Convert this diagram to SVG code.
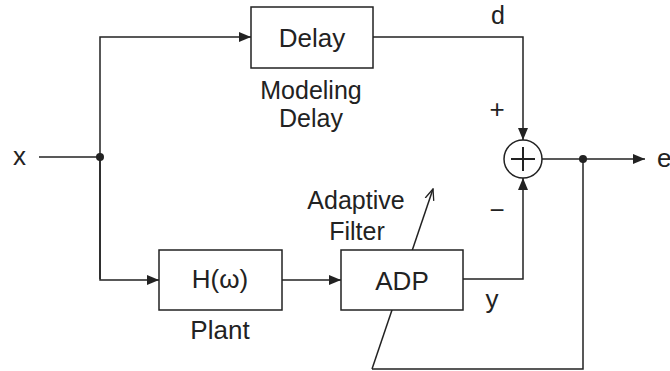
<svg xmlns="http://www.w3.org/2000/svg" width="670" height="371" viewBox="0 0 670 371">
<style>
.ln{fill:none;stroke:#222;stroke-width:1.5}
.bx{fill:#fff;stroke:#222;stroke-width:1.5}
text{font-family:"Liberation Sans",Arial,sans-serif;font-size:26px;fill:#222}
.m{text-anchor:middle}
.s{font-size:25px}
</style>
<defs>
<marker id="ah" markerWidth="12" markerHeight="10" refX="12" refY="5" orient="auto" markerUnits="userSpaceOnUse">
<path d="M0,0 L12,5 L0,10 Z" fill="#222"/>
</marker>
<marker id="oa" markerWidth="12" markerHeight="12" refX="11" refY="6" orient="auto" markerUnits="userSpaceOnUse">
<path d="M0,1.5 L11,6 L0,10.5" fill="none" stroke="#222" stroke-width="1.3"/>
</marker>
</defs>
<g id="connectors">
<path class="ln" d="M39,157 H100"/>
<path class="ln" d="M100,279 V37 H251" marker-end="url(#ah)"/>
<path class="ln" d="M100,157 V280 H159" marker-end="url(#ah)"/>
<path class="ln" d="M282,280 H341" marker-end="url(#ah)"/>
<path class="ln" d="M373,37 H523 V140" marker-end="url(#ah)"/>
<path class="ln" d="M463,279 H523 V178" marker-end="url(#ah)"/>
<path class="ln" d="M542,159 H645" marker-end="url(#ah)"/>
<path class="ln" d="M583,159 V369 H372"/>
<path class="ln" d="M372,369 L433,189" marker-end="url(#oa)"/>
<circle cx="100" cy="157" r="4" fill="#222"/>
<circle cx="583" cy="159" r="4" fill="#222"/>
</g>
<g id="delay">
<rect class="bx" x="251" y="7" width="122" height="61"/>
<text class="m" x="312" y="47">Delay</text>
<text class="m s" x="311" y="99">Modeling</text>
<text class="m s" x="311" y="127">Delay</text>
</g>
<g id="plant">
<rect class="bx" x="159" y="250" width="123" height="60"/>
<text class="m" x="220" y="288">H(ω)</text>
<text class="m" x="220" y="339">Plant</text>
</g>
<g id="adp">
<rect class="bx" x="341" y="250" width="122" height="60"/>
<text class="m" x="402" y="290">ADP</text>
<text class="m s" x="356" y="209">Adaptive</text>
<text class="m s" x="357" y="240">Filter</text>
</g>
<g id="sum">
<circle class="bx" cx="523" cy="159" r="19"/>
<path d="M511,159 H535 M523,147 V171" stroke="#222" stroke-width="2" fill="none"/>
</g>
<g id="labels">
<text x="13" y="165">x</text>
<text x="657" y="167">e</text>
<text class="s" x="491" y="24">d</text>
<text class="m" x="497" y="118">+</text>
<text class="m" x="497" y="219">−</text>
<text class="m" x="492" y="308">y</text>
</g>
</svg>
